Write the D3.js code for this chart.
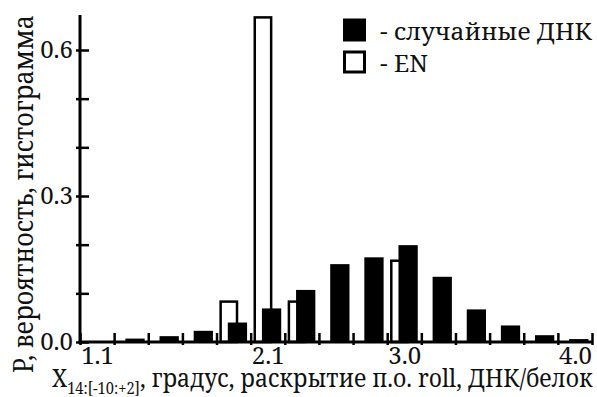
<!DOCTYPE html>
<html>
<head>
<meta charset="utf-8">
<script src="https://cdn.jsdelivr.net/npm/d3@7"></script>
<style>
  html, body { margin: 0; padding: 0; background: #fff; }
</style>
</head>
<body>
<svg id="chart" width="597" height="397" font-family="'Noto Serif', 'DejaVu Serif', serif"></svg>
<script>
// Histogram bins (0.2 wide), indexed left to right
const bins = [0, 1, 2, 3, 4, 5, 6, 7, 8, 9, 10, 11, 12, 13, 14];
// Probability per bin: random DNA–protein complexes
const randomDNA = [0, 0.007, 0.012, 0.023, 0.040, 0.069, 0.107, 0.160, 0.174, 0.199, 0.134, 0.067, 0.034, 0.014, 0.006];
// Probability per bin: EN complexes
const enDNA = [0, 0, 0, 0, 0.083, 0.667, 0.083, 0, 0, 0.167, 0, 0, 0, 0, 0];

// Axis ticks and labels
const yTicks = [0, 0.1, 0.2, 0.3, 0.4, 0.5, 0.6];
const yLabelled = [0, 0.3, 0.6];
const xLabelBins = [0, 5, 9, 14];
const xLabels = ["1.1", "2.1", "3.0", "4.0"];

const legendItems = ["- случайные ДНК", "- EN"];

const serif = "'Noto Serif', 'DejaVu Serif', serif";
const ink = "#111";

const svg = d3.select("#chart");
const plotLeft = 80, plotRight = 592, plotTop = 15, plotBottom = 342;

// narrow a text horizontally (in its own frame) so it spans `len` pixels
function fitWidth(sel, x0, y0, len, rotate) {
  const w = sel.node().getBBox().width;
  const k = len / w;
  sel.attr("transform", `translate(${x0},${y0})${rotate ? " rotate(-90)" : ""} scale(${k},1)`);
  return k;
}

// bin edges
const xEdge = d3.scaleLinear().domain([0, bins.length]).range([plotLeft, plotRight]);
const bw = xEdge(1) - xEdge(0);
const y = d3.scaleLinear().domain([0, 0.6]).range([plotBottom, 50]);

// EN bars (outlined), drawn first so the filled bars sit on top
svg.append("g").selectAll("rect")
  .data(bins.filter(i => enDNA[i] > 0))
  .join("rect")
  .attr("x", i => xEdge(i) + bw * 0.12)
  .attr("width", bw * 0.48)
  .attr("y", i => y(enDNA[i]))
  .attr("height", i => y(0) - y(enDNA[i]))
  .attr("fill", "#fff")
  .attr("stroke", "#000")
  .attr("stroke-width", 2.5);

// random DNA bars (filled)
svg.append("g").selectAll("rect")
  .data(bins.filter(i => randomDNA[i] > 0))
  .join("rect")
  .attr("x", i => xEdge(i) + bw * 0.33)
  .attr("width", bw * 0.565)
  .attr("y", i => y(randomDNA[i]))
  .attr("height", i => y(0) - y(randomDNA[i]))
  .attr("fill", "#000");

// y axis
const yAxis = svg.append("g")
  .attr("transform", `translate(${plotLeft},0)`)
  .call(d3.axisLeft(y).tickValues(yTicks)
    .tickFormat(d => yLabelled.some(v => Math.abs(v - d) < 1e-9) ? d3.format(".1f")(d) : ""))
  .attr("font-family", serif);
yAxis.select(".domain").remove();
yAxis.selectAll(".tick line")
  .attr("x1", -4).attr("x2", 9)
  .attr("stroke", "#000").attr("stroke-width", 2.5);
yAxis.selectAll(".tick text")
  .attr("x", -7).attr("dy", "0.3em")
  .attr("fill", ink)
  .attr("font-size", 24);
yAxis.append("line")
  .attr("x1", 0).attr("x2", 0).attr("y1", plotTop).attr("y2", plotBottom + 1.5)
  .attr("stroke", "#000").attr("stroke-width", 3);

// x axis: tick marks on bin edges
const xAxis = svg.append("g")
  .attr("transform", `translate(0,${plotBottom})`)
  .call(d3.axisBottom(xEdge).tickValues(d3.range(bins.length + 1)).tickFormat(""));
xAxis.select(".domain").remove();
xAxis.selectAll(".tick line")
  .attr("y1", -9).attr("y2", 3)
  .attr("stroke", "#000").attr("stroke-width", 2.5);
xAxis.append("line")
  .attr("x1", plotLeft - 1.5).attr("x2", plotRight).attr("y1", 0).attr("y2", 0)
  .attr("stroke", "#000").attr("stroke-width", 3);

// x labels centred under their bins
const xLab = svg.append("g")
  .attr("transform", `translate(0,${plotBottom})`)
  .call(d3.axisBottom(xEdge).tickValues(xLabelBins.map(i => i + 0.5))
    .tickFormat((d, k) => xLabels[k]).tickSize(0))
  .attr("font-family", serif);
xLab.select(".domain").remove();
xLab.selectAll(".tick text")
  .attr("y", 22).attr("dy", 0)
  .attr("fill", ink)
  .attr("font-size", 24);

// x axis title
const xt = svg.append("text")
  .attr("fill", ink)
  .attr("font-size", 25);
xt.append("tspan").text("X");
xt.append("tspan").attr("dy", 7).attr("font-size", 16).text("14:[-10:+2]");
xt.append("tspan").attr("dy", -7).text(", градус, раскрытие п.о. roll, ДНК/белок");
fitWidth(xt, 52, 387, 541, false);

// y axis title
const yt = svg.append("text")
  .attr("fill", ink)
  .attr("font-size", 28)
  .text("P, вероятность, гистограмма");
fitWidth(yt, 33, 373, 358, true);

// legend
const lg = svg.append("g");
lg.append("rect").attr("x", 343).attr("y", 18.5).attr("width", 23).attr("height", 23).attr("fill", "#000");
lg.append("rect").attr("x", 344.5).attr("y", 52).attr("width", 20).attr("height", 20)
  .attr("fill", "#fff").attr("stroke", "#000").attr("stroke-width", 3);
const lt = lg.selectAll("text.lab")
  .data(legendItems)
  .join("text")
  .attr("class", "lab")
  .attr("fill", ink)
  .attr("font-size", 24)
  .text(d => d);
const k = fitWidth(d3.select(lt.nodes()[0]), 380, 40, 213, false);
d3.select(lt.nodes()[1]).attr("transform", `translate(380,72) scale(${k},1)`);
</script>
</body>
</html>
